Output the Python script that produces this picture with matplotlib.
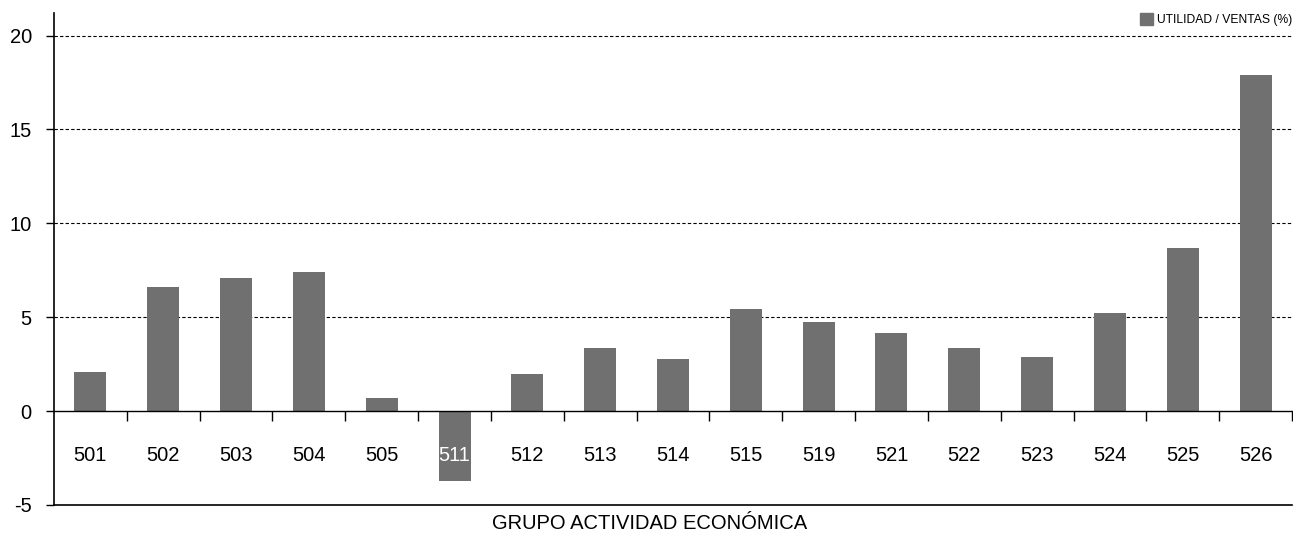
import numpy as np
import matplotlib
matplotlib.use("Agg")
import matplotlib.pyplot as plt
from matplotlib.patches import Patch
from matplotlib import font_manager

grupos = ["501", "502", "503", "504", "505", "511", "512", "513", "514",
          "515", "519", "521", "522", "523", "524", "525", "526"]
utilidad_ventas = [2.1, 6.6, 7.1, 7.4, 0.7, -3.7, 2.0, 3.35, 2.75,
                   5.45, 4.75, 4.15, 3.35, 2.9, 5.25, 8.7, 17.9]

names = {f.name for f in font_manager.fontManager.ttflist}
if "Liberation Sans Narrow" in names:
    fam, fs = "Liberation Sans Narrow", 16
else:
    fam, fs = "Liberation Sans", 14.5
plt.rcParams["font.family"] = [fam, "DejaVu Sans"]

bar_color = "#707070"

fig = plt.figure(figsize=(12.93, 5.34), dpi=100)
ax = fig.add_axes([54 / 1293, 29 / 534, 1238 / 1293, 492 / 534])

x = np.arange(len(grupos))
ax.bar(x, utilidad_ventas, width=0.44, color=bar_color, zorder=2)

ax.set_xlim(-0.5, len(grupos) - 0.5)
ax.set_ylim(-5, 21.2)

# zero line with category separators
ax.spines["bottom"].set_position(("data", 0))
ax.spines["bottom"].set_linewidth(1.0)
ax.spines["bottom"].set_zorder(3)
ax.axhline(-5, color="black", lw=1.2, clip_on=False, zorder=3)
ax.spines["top"].set_visible(False)
ax.spines["right"].set_visible(False)
ax.spines["left"].set_linewidth(1.2)

ax.set_xticks(x)
ax.tick_params(axis="x", which="major", length=0, labelbottom=False)
ax.set_xticks(np.arange(len(grupos)) + 0.5, minor=True)
ax.tick_params(axis="x", which="minor", length=7, width=1.0, direction="out")

for i, g in enumerate(grupos):
    c = "white" if utilidad_ventas[i] < -2.3 else "black"
    ax.text(i, -2.35, g, ha="center", va="center", fontsize=fs, color=c, zorder=4)

ax.set_yticks([-5, 0, 5, 10, 15, 20])
ax.set_yticklabels(["-5", "0", "5", "10", "15", "20"])
ax.tick_params(axis="y", length=6, width=1.0, pad=10, labelsize=fs)
for v in [5, 10, 15, 20]:
    ax.axhline(v, color="black", lw=0.8, ls=(0, (3, 2)), zorder=1)

leg = ax.legend([Patch(color=bar_color)], ["UTILIDAD / VENTAS (%)"], loc="upper right",
                frameon=False, fontsize=fs * 0.6, handlelength=1.1, handleheight=1.1,
                handletextpad=0.3, borderaxespad=0.0, borderpad=0.0,
                bbox_to_anchor=(1.0, 1.0))

fig.text(0.502, 0.02, "GRUPO ACTIVIDAD ECONÓMICA", ha="center", va="center", fontsize=fs)

fig.savefig("out.png", dpi=100)
